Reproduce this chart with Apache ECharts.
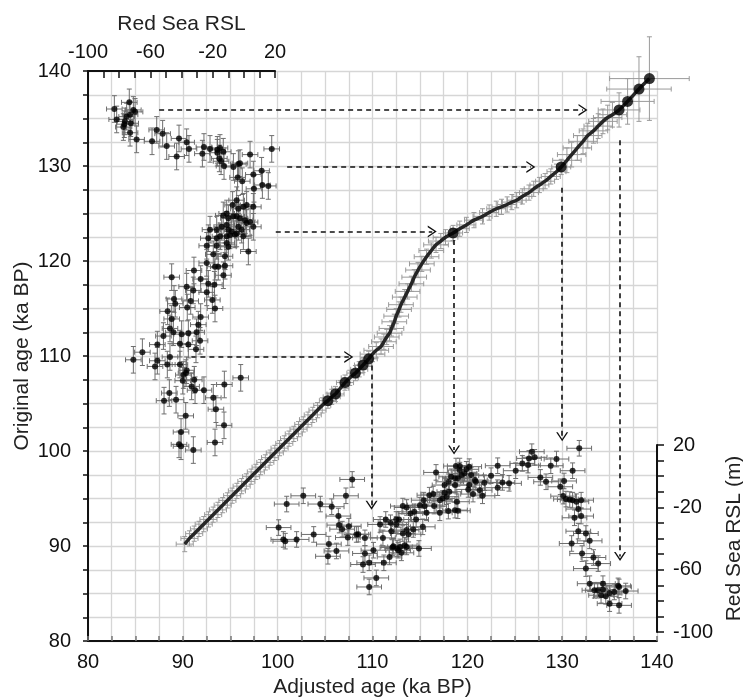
<!DOCTYPE html>
<html><head><meta charset="utf-8">
<script src="https://cdn.jsdelivr.net/npm/echarts@6/dist/echarts.min.js"></script>
<style>html,body{margin:0;padding:0;background:#fff}#c{width:743px;height:698px}</style>
</head><body><div id="c"></div>
<script>
// ---- Main age-model curve (Adjusted age vs Original age) ----
const curveAdj = [90.2,90.7,91.2,91.7,92.2,92.7,93.2,93.7,94.2,94.7,95.2,95.7,96.2,96.7,97.2,97.7,98.2,98.7,99.2,99.7,100.2,100.7,101.2,101.7,102.2,102.7,103.2,103.7,104.2,104.7,105.3,105.7,106.1,106.6,107.1,107.6,108.2,108.6,109.0,109.6,110.0,110.4,110.9,111.2,111.5,111.8,112.0,112.3,112.5,112.8,113.0,113.4,113.7,114.1,114.4,114.8,115.2,115.7,116.2,116.7,117.2,117.7,118.5,119.2,119.9,120.7,121.6,122.3,123.05,123.6,124.2,124.7,125.2,125.8,126.5,127.0,127.6,128.2,128.8,129.4,129.9,130.5,131.0,131.6,132.2,132.7,133.3,133.8,134.3,134.8,135.3,136.0,136.9,138.1,139.2];
const curveOrig = [90.2,90.8,91.3,91.8,92.3,92.8,93.3,93.8,94.3,94.8,95.3,95.8,96.3,96.8,97.3,97.8,98.3,98.8,99.3,99.8,100.3,100.8,101.3,101.8,102.3,102.8,103.3,103.8,104.3,104.8,105.3,105.7,106.0,106.6,107.2,107.7,108.2,108.6,109.05,109.7,110.2,110.6,111.0,111.5,112.0,112.4,112.9,113.6,114.2,114.9,115.4,116.2,116.8,117.6,118.3,119.05,119.7,120.45,121.1,121.7,122.1,122.5,122.95,123.4,123.8,124.3,124.7,125.1,125.5,125.7,125.95,126.2,126.4,126.8,127.2,127.6,128.0,128.4,128.9,129.4,129.9,130.6,131.2,131.9,132.6,133.2,133.7,134.2,134.7,135.1,135.4,135.9,136.8,138.1,139.2];
// error half-widths per adjusted-age range: [upper adjusted age, x error, y error]
const curveErrBands = [[109.9,0.9,0.8],[117.9,1.3,0.8],[129.9,1.0,0.8],[135.4,1.5,1.3],[136.0,2.2,1.8],[136.9,2.8,2.4],[138.1,3.4,3.4],[139.2,4.2,4.4]];
const dotAdj  = [105.3,106.1,107.1,108.2,109.0,109.6,118.5,129.9,136.0,136.9,138.1,139.2];
const dotOrig = [105.3,106.0,107.2,108.2,109.05,109.7,122.95,129.9,135.9,136.8,138.1,139.2];

// ---- Top-left inset: Red Sea RSL (m) vs Original age (ka BP) ----
const tlRSL = [-83.1,-73.5,-81.6,-75.2,-76.3,-76.7,-73.0,-70.9,-69.8,-72.6,-77.3,-73.0,-68.8,-55.9,-52.1,-58.9,-49.5,-41.6,-36.7,-43.1,-35.2,-26.6,-25.6,-21.7,-17.0,-17.0,-15.3,-13.2,-15.7,-14.6,-12.7,-6.7,-3.5,-2.5,-4.0,-1.0,4.0,6.1,6.5,11.4,11.9,15.7,17.9,-4.6,-7.2,-3.5,-0.3,1.8,6.1,-11.0,-13.2,-9.9,-6.7,-4.6,-2.5,0.8,1.8,4.0,6.1,-21.7,-17.4,-14.2,-11.0,-9.9,-7.8,-5.7,-3.5,-1.4,-0.3,-22.8,-17.4,-15.3,-11.0,-8.9,-4.6,-23.8,-17.4,-11.0,-9.9,2.9,-19.6,-12.1,-23.8,-18.5,-12.1,-16.4,-13.1,-32.0,-27.7,-46.3,-22.8,-18.9,-36.7,-32.4,-23.8,-44.8,-44.0,-34.1,-20.2,-36.3,-18.5,-48.9,-27.7,-46.3,-29.2,-47.4,-45.2,-51.6,-39.9,-35.6,-30.3,-28.1,-55.5,-41.0,-35.6,-30.7,-65.1,-70.9,-55.5,-47.4,-57.0,-49.1,-41.0,-36.7,-37.1,-38.8,-39.2,-31.8,-33.5,-31.3,-25.6,-12.5,-2.0,-47.8,-51.2,-43.5,-19.6,-17.9,-37.3,-12.7,-40.3,-41.6,-40.3,-32.4,-18.5];
const tlAge = [136.0,136.7,134.9,135.2,134.7,134.4,135.4,135.9,135.7,134.5,134.1,133.5,132.8,133.8,133.4,132.6,132.1,132.9,132.5,131.0,131.8,131.3,132.0,131.8,131.7,131.4,131.9,131.5,130.8,130.5,130.0,129.9,130.2,130.3,128.8,128.4,131.2,129.1,127.6,129.5,128.0,127.9,131.8,126.4,125.9,125.5,125.7,125.9,125.7,125.0,124.8,124.5,124.7,124.7,124.5,124.3,124.0,124.1,123.6,123.3,123.3,123.6,123.8,123.3,123.1,122.8,123.6,123.3,122.6,122.4,122.4,122.6,122.6,122.7,122.9,121.6,121.6,121.9,121.5,121.0,120.7,120.5,119.8,119.4,119.5,119.4,118.5,119.0,118.1,118.3,117.6,117.5,117.3,116.9,116.7,116.0,115.5,115.8,115.9,115.1,115.0,114.7,114.1,113.9,113.3,112.9,112.5,112.1,112.3,112.4,112.5,111.6,111.2,111.3,111.2,110.7,110.4,109.6,109.5,109.9,108.9,109.1,109.1,108.5,108.2,108.0,107.4,107.5,106.8,106.4,106.4,107.0,107.7,106.1,105.3,105.4,105.6,104.4,103.7,102.7,102.0,100.7,100.5,100.1,100.9];
const tlErrRSL = 5;   // m
const tlErrAge = 1.4; // ka

// ---- Bottom-right inset: Adjusted age (ka BP) vs Red Sea RSL (m) ----
const brAge = [107.86,102.7,100.95,104.5,105.7,107.2,100.1,100.6,100.8,102.0,103.8,105.4,105.3,106.2,106.4,106.5,106.8,107.4,107.5,108.3,108.5,109.2,109.0,109.65,110.4,109.65,110.1,109.2,111.2,111.8,111.1,110.8,111.4,111.9,112.0,112.5,112.8,112.5,113.2,113.6,114.0,114.4,114.6,115.0,115.4,115.5,116.0,116.4,116.5,116.7,117.1,117.4,117.6,118.0,118.1,118.3,118.7,118.8,119.2,118.0,118.7,118.9,115.7,115.3,114.3,113.8,113.6,113.2,112.9,112.6,112.2,112.7,113.4,113.6,114.9,113.05,112.1,117.1,119.0,117.8,117.6,118.7,119.0,119.2,119.4,119.7,119.9,120.2,120.4,120.8,120.9,120.2,120.1,120.6,121.3,121.6,121.8,122.5,123.2,123.2,123.7,124.4,125.1,125.8,126.4,126.5,126.8,127.1,127.7,128.3,128.8,129.4,129.8,130.2,131.1,131.8,130.1,130.4,130.8,131.1,131.5,132.0,131.7,131.3,132.0,131.7,132.5,132.9,131.0,132.1,133.3,133.8,132.5,132.9,133.4,133.75,134.3,134.1,134.6,135.0,135.5,135.9,136.0,136.7,135.0,136.0,134.3];
const brRSL = [-2.1,-12.6,-17.9,-17.9,-19.6,-12.6,-33.0,-40.6,-41.7,-40.6,-37.4,-43.6,-51.4,-48.0,-25.6,-31.4,-34.0,-39.4,-32.1,-37.4,-37.2,-39.6,-56.7,-55.6,-65.3,-71.1,-47.5,-49.6,-55.6,-51.8,-39.6,-31.0,-27.8,-29.9,-35.3,-27.8,-27.8,-31.0,-19.2,-20.1,-23.9,-22.9,-27.8,-18.6,-15.4,-19.2,-12.2,-11.5,-19.2,2.4,-15.4,-14.3,-5.7,-3.6,-10.0,-0.4,-1.4,6.5,3.9,-22.4,-21.8,-16.4,-23.5,-32.5,-34.2,-37.2,-34.6,-36.8,-45.4,-46.4,-45.0,-47.5,-44.3,-45.4,-46.4,-49.2,-45.8,-23.5,-22.2,-13.2,-10.6,-5.7,-1.4,6.5,0.7,1.8,4.4,6.1,0.7,-2.5,-3.6,-5.7,-8.5,-11.5,-9.0,-12.6,-4.2,0.3,6.7,-7.4,-4.0,-4.6,3.5,8.2,7.1,11.4,15.7,12.1,-0.8,-3.6,6.7,11.0,-6.8,-3.1,3.5,17.9,-12.8,-14.7,-15.0,-15.4,-16.4,-15.4,-21.1,-26.7,-25.6,-35.3,-36.8,-41.5,-43.2,-49.7,-52.2,-56.1,-59.3,-69.0,-73.2,-73.2,-72.8,-76.4,-77.1,-75.0,-74.3,-70.4,-71.1,-73.7,-81.8,-82.9,-69.0];
const brErrAge = 1.3; // ka
const brErrRSL = 5;   // m

// ---- Dashed arrows [x1, y1, x2, y2] in main (Adjusted age, Original age) coords ----
const arrows = [
  [87.5,135.9,132.2,135.9],
  [101.0,129.9,126.7,129.9],
  [99.8,123.1,116.3,123.1],
  [90.9,109.9,107.5,109.9],
  [109.9,109.0,109.9,94.3],
  [118.6,122.2,118.6,100.1],
  [130.0,127.7,130.0,101.5],
  [136.1,132.7,136.1,88.9]
];

// ---- Axis ticks ----
const mainTicks = {min:80, max:140, interval:10};
const rslTicks = {min:-100, max:20, interval:10, labelStep:40};

const FONT = "'Liberation Sans', Arial, sans-serif";
const TICK_FS = 20, NAME_FS = 21;
function errBand(x){ for (const b of curveErrBands) if (x <= b[0]+1e-6) return b; return curveErrBands[curveErrBands.length-1]; }

function errItem(color, cap, lw){
  return function(params, api){
    const x = api.value(0), y = api.value(1), xe = api.value(2), ye = api.value(3);
    const c = api.coord([x,y]);
    const l = api.coord([x-xe,y]), r = api.coord([x+xe,y]);
    const t = api.coord([x,y+ye]), b = api.coord([x,y-ye]);
    const st = {stroke:color, lineWidth:lw, fill:null};
    return {type:'group', children:[
      {type:'line', shape:{x1:l[0],y1:c[1],x2:r[0],y2:c[1]}, style:st},
      {type:'line', shape:{x1:l[0],y1:c[1]-cap,x2:l[0],y2:c[1]+cap}, style:st},
      {type:'line', shape:{x1:r[0],y1:c[1]-cap,x2:r[0],y2:c[1]+cap}, style:st},
      {type:'line', shape:{x1:c[0],y1:t[1],x2:c[0],y2:b[1]}, style:st},
      {type:'line', shape:{x1:c[0]-cap,y1:t[1],x2:c[0]+cap,y2:t[1]}, style:st},
      {type:'line', shape:{x1:c[0]-cap,y1:b[1],x2:c[0]+cap,y2:b[1]}, style:st}
    ]};
  };
}

const curveData = curveAdj.map((x,i)=>[x, curveOrig[i]]);
const curveErrData = curveAdj.map((x,i)=>{ const b = errBand(x); return [x, curveOrig[i], b[1], b[2]]; });
const dotData = dotAdj.map((x,i)=>[x, dotOrig[i]]);
const tlData = tlRSL.map((v,i)=>[v, tlAge[i]]);
const tlErrData = tlRSL.map((v,i)=>[v, tlAge[i], tlErrRSL, tlErrAge]);
const brData = brAge.map((v,i)=>[v, brRSL[i]]);
const brErrData = brAge.map((v,i)=>[v, brRSL[i], brErrAge, brErrRSL]);

const chevron = 'path://M0,10 L6,0 L12,10 L10.4,10 L6,2.6 L1.6,10 Z';

const chart = echarts.init(document.getElementById('c'), null, {renderer:'canvas'});
const gridBase = {containLabel:false, outerBoundsMode:'none'};
const rslFmt = v=>((v-rslTicks.min)%rslTicks.labelStep===0 ? String(v) : '');
const option = {
  animation:false,
  backgroundColor:'#fff',
  textStyle:{fontFamily:FONT},
  grid:[
    Object.assign({left:88, top:71, width:569, height:570}, gridBase),
    Object.assign({left:88, top:71, width:187, height:570}, gridBase),
    Object.assign({left:88, top:445, width:569, height:187}, gridBase)
  ],
  xAxis:[
    {gridIndex:0, type:'value', min:mainTicks.min, max:mainTicks.max, interval:mainTicks.interval, position:'bottom',
     name:'Adjusted age (ka BP)', nameLocation:'middle', nameGap:35,
     nameTextStyle:{fontSize:NAME_FS, color:'#222', fontFamily:FONT},
     axisLine:{show:true, onZero:false, lineStyle:{color:'#111', width:2}},
     axisTick:{show:true, inside:true, length:5, lineStyle:{color:'#777', width:1.5}},
     minorTick:{show:true, splitNumber:4, length:5, lineStyle:{color:'#777', width:1.5}},
     axisLabel:{fontSize:TICK_FS, color:'#111', margin:11, fontFamily:FONT},
     splitLine:{show:true, lineStyle:{color:'#d6d6d6', width:1.3}},
     minorSplitLine:{show:true, lineStyle:{color:'#d6d6d6', width:1.3}}},
    {gridIndex:1, type:'value', min:rslTicks.min, max:rslTicks.max, interval:rslTicks.interval, position:'top',
     name:'Red Sea RSL', nameLocation:'middle', nameGap:36,
     nameTextStyle:{fontSize:NAME_FS, color:'#222', fontFamily:FONT},
     axisLine:{show:true, onZero:false, lineStyle:{color:'#111', width:2}},
     axisTick:{show:true, inside:true, length:7, lineStyle:{color:'#111', width:1.5}},
     axisLabel:{fontSize:TICK_FS, color:'#111', margin:9, fontFamily:FONT, formatter:rslFmt},
     splitLine:{show:false}},
    {gridIndex:2, type:'value', min:mainTicks.min, max:mainTicks.max, show:false}
  ],
  yAxis:[
    {gridIndex:0, type:'value', min:mainTicks.min, max:mainTicks.max, interval:mainTicks.interval, position:'left',
     axisLine:{show:true, onZero:false, lineStyle:{color:'#111', width:2}},
     axisTick:{show:true, inside:false, length:5, lineStyle:{color:'#111', width:1.5}},
     minorTick:{show:true, splitNumber:4, length:5, lineStyle:{color:'#111', width:1.5}},
     axisLabel:{fontSize:TICK_FS, color:'#111', margin:17, fontFamily:FONT},
     splitLine:{show:true, lineStyle:{color:'#d6d6d6', width:1.3}},
     minorSplitLine:{show:true, lineStyle:{color:'#d6d6d6', width:1.3}}},
    {gridIndex:1, type:'value', min:mainTicks.min, max:mainTicks.max, show:false},
    {gridIndex:2, type:'value', min:rslTicks.min, max:rslTicks.max, interval:rslTicks.interval, position:'right',
     name:'Red Sea RSL (m)', nameLocation:'middle', nameGap:64, nameRotate:90,
     nameTextStyle:{fontSize:NAME_FS, color:'#222', fontFamily:FONT},
     axisLine:{show:true, onZero:false, lineStyle:{color:'#111', width:2}},
     axisTick:{show:true, inside:false, length:7, lineStyle:{color:'#111', width:1.5}},
     axisLabel:{fontSize:TICK_FS, color:'#111', margin:16, fontFamily:FONT, formatter:rslFmt},
     splitLine:{show:false}}
  ],
  graphic:[
    {type:'text', x:22, y:356, rotation:Math.PI/2, z:100,
     style:{text:'Original age (ka BP)', fontSize:NAME_FS, fill:'#222', fontFamily:FONT,
            textAlign:'center', textVerticalAlign:'middle'}}
  ],
  series:[
    {type:'custom', xAxisIndex:0, yAxisIndex:0, renderItem:errItem('#9a9a9a', 2.5, 1), data:curveErrData, silent:true, z:2},
    {type:'line', xAxisIndex:0, yAxisIndex:0, data:curveData, smooth:0.25, showSymbol:false, symbol:'none',
     lineStyle:{color:'#262626', width:3.5}, silent:true, z:3},
    {type:'scatter', xAxisIndex:0, yAxisIndex:0, data:dotData, symbolSize:11, itemStyle:{color:'#000'}, silent:true, z:4},
    {type:'custom', xAxisIndex:1, yAxisIndex:1, renderItem:errItem('#6e6e6e', 2.5, 1), data:tlErrData, silent:true, z:5},
    {type:'scatter', xAxisIndex:1, yAxisIndex:1, data:tlData, symbolSize:6, itemStyle:{color:'#000'}, silent:true, z:6},
    {type:'custom', xAxisIndex:2, yAxisIndex:2, renderItem:errItem('#6e6e6e', 2.5, 1), data:brErrData, silent:true, z:5},
    {type:'scatter', xAxisIndex:2, yAxisIndex:2, data:brData, symbolSize:6, itemStyle:{color:'#000'}, silent:true, z:6},
    {type:'line', xAxisIndex:0, yAxisIndex:0, data:[], silent:true, z:7,
     markLine:{silent:true, symbol:['none', chevron], symbolSize:[12,9], animation:false,
       label:{show:false}, emphasis:{disabled:true},
       lineStyle:{color:'#111', width:1.6, type:[5,4]},
       data: arrows.map(a=>[{coord:[a[0],a[1]]},{coord:[a[2],a[3]]}])}}
  ]
};
chart.setOption(option);
</script>
</body></html>
